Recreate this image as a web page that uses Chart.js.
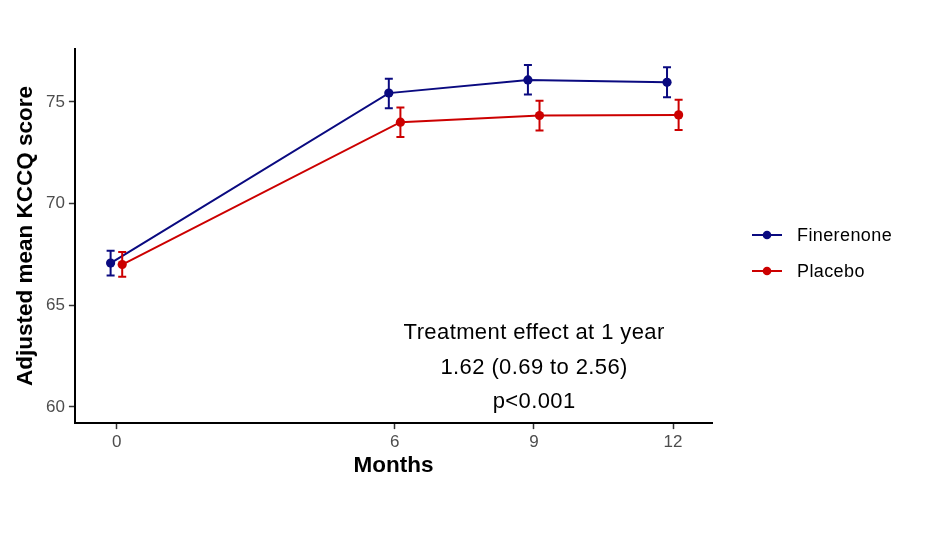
<!DOCTYPE html>
<html><head><meta charset="utf-8">
<script src="https://cdn.jsdelivr.net/npm/chart.js@4"></script>
<style>html,body{margin:0;padding:0;background:#fff}#wrap{width:927px;height:548px}</style>
</head><body><div id="wrap"><canvas id="c" width="927" height="548"></canvas></div>
<script>
const months = [0, 6, 9, 12];
const xTickLabels = [0, 6, 9, 12];
const yTickLabels = [60, 65, 70, 75];
const seriesNames = ['Finerenone', 'Placebo'];
const dodge = [-0.13, 0.12];
const finerenoneMean = [67.07, 75.43, 76.08, 75.96];
const finerenoneLow  = [66.46, 74.69, 75.36, 75.23];
const finerenoneHigh = [67.68, 76.14, 76.81, 76.70];
const placeboMean = [67.00, 74.00, 74.33, 74.36];
const placeboLow  = [66.40, 73.27, 73.59, 73.61];
const placeboHigh = [67.62, 74.72, 75.06, 75.10];
const colors = ['#0a0a80', '#cc0000'];
const annotationLines = ['Treatment effect at 1 year', '1.62 (0.69 to 2.56)', 'p<0.001'];
const annotationY = [63.63, 61.92, 60.25];
const annotationX = 9;

const FONT = '"Liberation Sans", Arial, Helvetica, sans-serif';

function mkData(mean, low, high, off) {
  return months.map((m, i) => ({x: m + off, y: mean[i], lo: low[i], hi: high[i]}));
}

const errorBars = {
  id: 'errorBars',
  afterDatasetsDraw(chart) {
    const ctx = chart.ctx, xs = chart.scales.x, ys = chart.scales.y;
    chart.data.datasets.forEach((ds) => {
      ctx.save();
      ctx.strokeStyle = ds.borderColor;
      ctx.lineWidth = 2;
      ds.data.forEach(p => {
        const px = xs.getPixelForValue(p.x);
        const y1 = ys.getPixelForValue(p.lo), y2 = ys.getPixelForValue(p.hi);
        ctx.beginPath();
        ctx.moveTo(px, y1); ctx.lineTo(px, y2);
        ctx.moveTo(px - 4, y1); ctx.lineTo(px + 4, y1);
        ctx.moveTo(px - 4, y2); ctx.lineTo(px + 4, y2);
        ctx.stroke();
      });
      ctx.restore();
    });
  }
};

const annot = {
  id: 'annot',
  afterDraw(chart) {
    const ctx = chart.ctx, xs = chart.scales.x, ys = chart.scales.y;
    ctx.save();
    ctx.fillStyle = '#000';
    ctx.font = '22px ' + FONT;
    ctx.letterSpacing = '0.4px';
    ctx.textAlign = 'center';
    ctx.textBaseline = 'middle';
    annotationLines.forEach((t, i) => {
      ctx.fillText(t, xs.getPixelForValue(annotationX) + 0.2, ys.getPixelForValue(annotationY[i]));
    });
    // legend
    chart.data.datasets.forEach((ds, i) => {
      const y = 235 + i * 36;
      ctx.strokeStyle = ds.borderColor;
      ctx.lineWidth = 2;
      ctx.beginPath(); ctx.moveTo(752, y); ctx.lineTo(782, y); ctx.stroke();
      ctx.fillStyle = ds.borderColor;
      ctx.beginPath(); ctx.arc(767, y, 4.3, 0, Math.PI * 2); ctx.fill();
      ctx.fillStyle = '#000';
      ctx.font = '18px ' + FONT;
      ctx.letterSpacing = '0.4px';
      ctx.textAlign = 'left';
      ctx.fillText(ds.label, 797, y + 1);
    });
    ctx.restore();
  }
};

new Chart(document.getElementById('c'), {
  type: 'line',
  data: {
    datasets: [
      {label: seriesNames[0], data: mkData(finerenoneMean, finerenoneLow, finerenoneHigh, dodge[0]),
       borderColor: colors[0], backgroundColor: colors[0], borderWidth: 2, pointRadius: 4.6, pointBorderWidth: 0, pointHoverRadius: 4.6, tension: 0},
      {label: seriesNames[1], data: mkData(placeboMean, placeboLow, placeboHigh, dodge[1]),
       borderColor: colors[1], backgroundColor: colors[1], borderWidth: 2, pointRadius: 4.6, pointBorderWidth: 0, pointHoverRadius: 4.6, tension: 0}
    ]
  },
  options: {
    responsive: false,
    animation: false,
    layout: {padding: {left: 12, right: 215, top: 49, bottom: 71.5}},
    plugins: {legend: {display: false}, tooltip: {enabled: false}},
    scales: {
      x: {
        type: 'linear', min: -0.9, max: 12.84,
        afterBuildTicks: s => { s.ticks = xTickLabels.map(v => ({value: v})); },
        grid: {drawOnChartArea: false, drawTicks: true, tickLength: 6, tickColor: '#333', tickWidth: 1.5},
        border: {color: '#000', width: 2},
        ticks: {color: '#4d4d4d', font: {family: FONT, size: 17}, padding: 3, maxRotation: 0},
        title: {display: true, text: 'Months', color: '#000', font: {family: FONT, size: 22.5, weight: 'bold', lineHeight: 0.933}, padding: {top: 0, bottom: 0}}
      },
      y: {
        type: 'linear', min: 59.2, max: 77.6,
        afterBuildTicks: s => { s.ticks = yTickLabels.map(v => ({value: v})); },
        grid: {drawOnChartArea: false, drawTicks: true, tickLength: 6, tickColor: '#333', tickWidth: 1.5},
        border: {color: '#000', width: 2},
        ticks: {color: '#4d4d4d', font: {family: FONT, size: 17}, padding: 4},
        title: {display: true, text: 'Adjusted mean KCCQ score', color: '#000', font: {family: FONT, size: 22.5, weight: 'bold'}, padding: {top: 0, bottom: 3}}
      }
    }
  },
  plugins: [errorBars, annot]
});
</script></body></html>
